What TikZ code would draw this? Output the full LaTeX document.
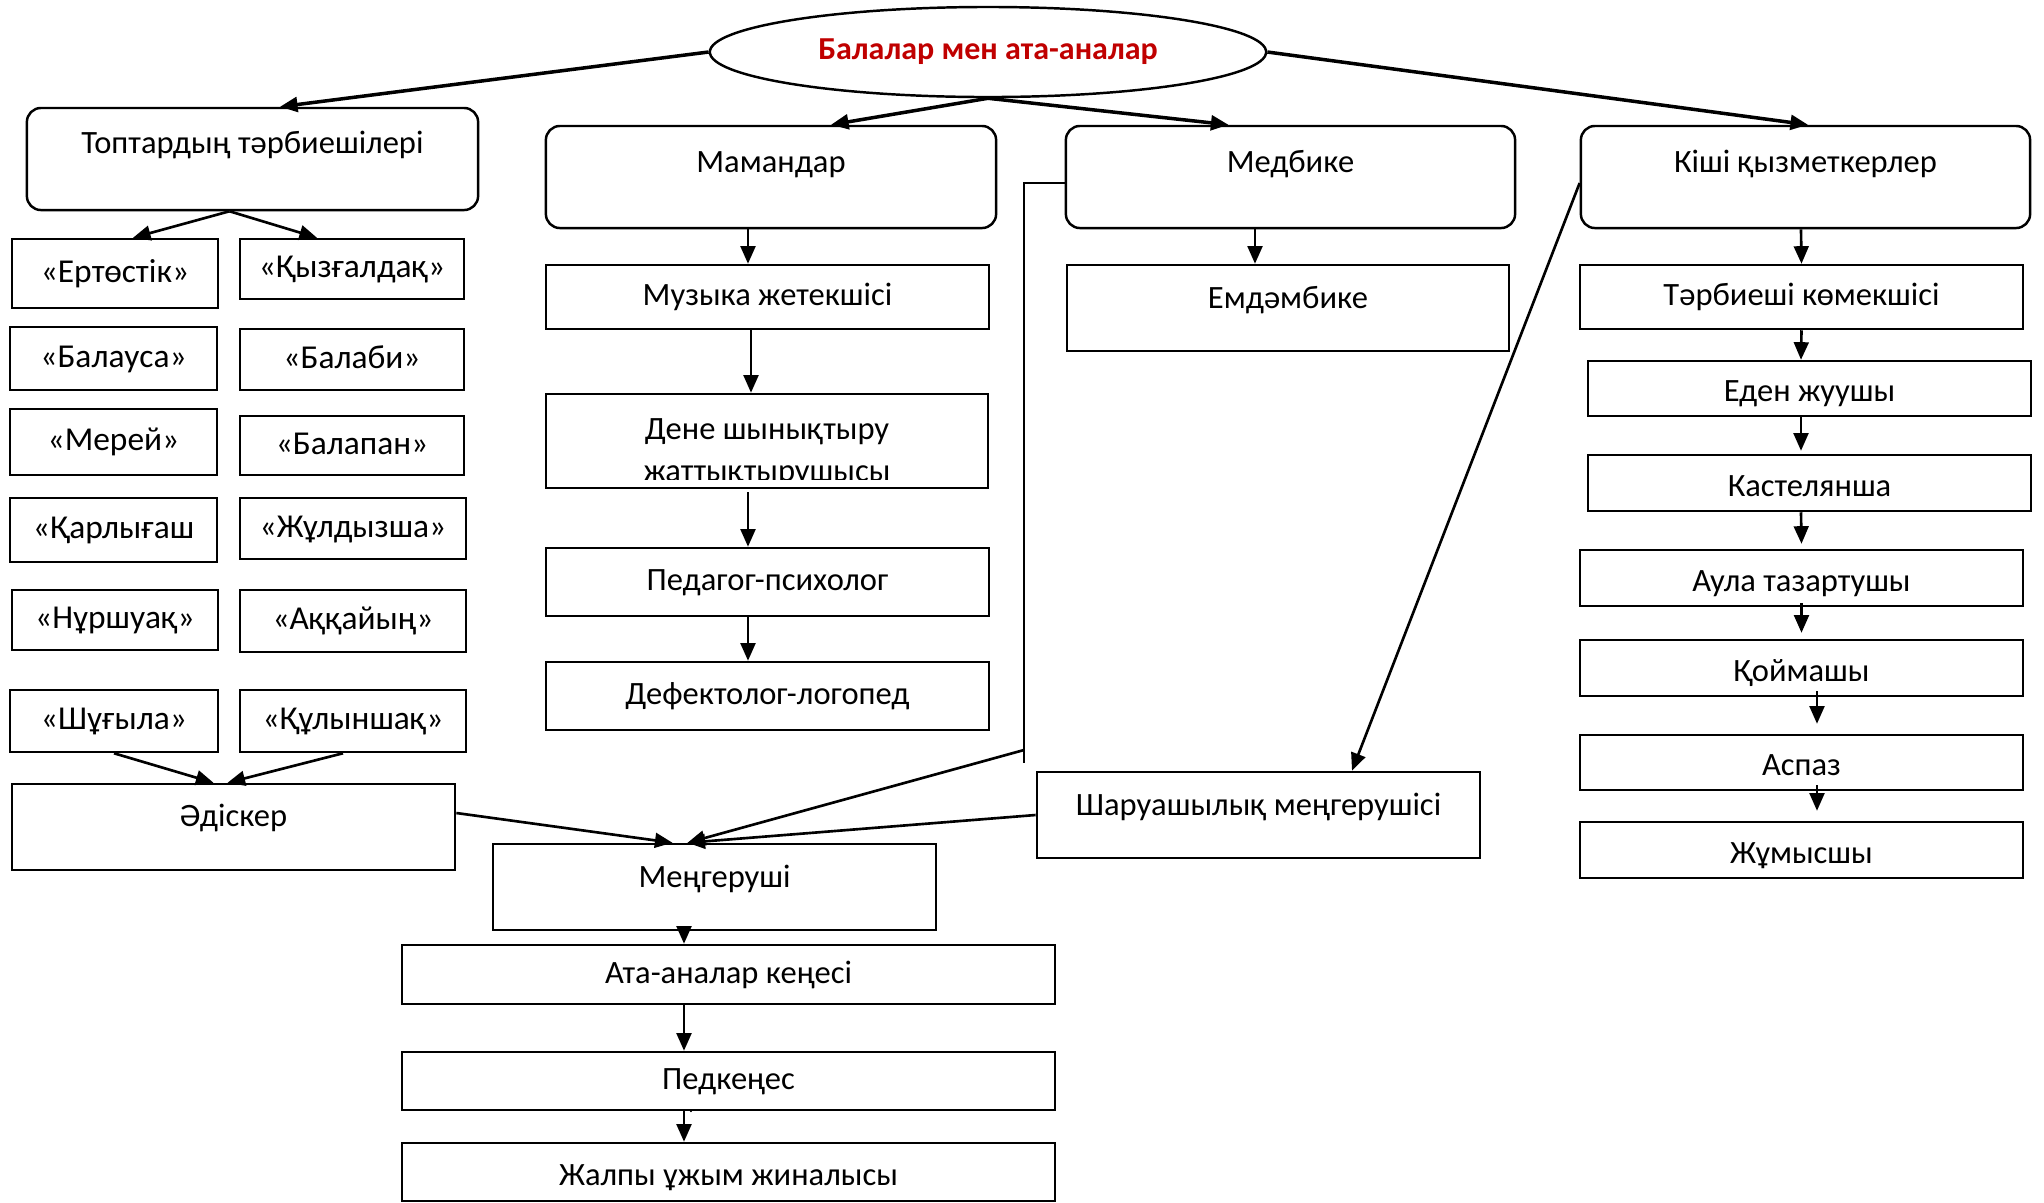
\documentclass[tikz,border=0pt]{standalone}
\usepackage{fontspec}
\setmainfont{Carlito}
\usetikzlibrary{calc,shapes.geometric,arrows.meta}
\definecolor{titlered}{RGB}{192,0,0}

\begin{document}
\begin{tikzpicture}[x=0.01cm, y=-0.01cm,
  font=\fontsize{9.25}{11.4}\selectfont,
  box/.style={draw, line width=0.7pt, inner sep=0pt, align=center, text height=6.5pt, text depth=1.5pt},
  rbox/.style={box, rounded corners=4pt},
  grp/.style={box, font=\fontsize{9.5}{11}\selectfont},
  low/.style={text height=9pt},
  textup/.style={text depth=#1},
  arr/.style={-{Triangle[length=5pt,width=4.2pt]}, line width=0.75pt},
  bigarr/.style={arr, line width=1pt}]

  \useasboundingbox (0,0) rectangle (2044,1202);

  % Root ellipse
  \node[draw, ellipse, line width=0.7pt, inner sep=0pt, minimum width=5.56cm, minimum height=0.9cm,
        text=titlered, font=\fontsize{9.1}{11}\selectfont\bfseries] (root) at (988,52) {Балалар мен ата-аналар};

  % Main groups
  \node[rbox, minimum width=4.51cm, minimum height=1.02cm, textup=9.6pt] (topt) at (252.5,159) {Топтардың тәрбиешілері};
  \node[rbox, minimum width=4.50cm, minimum height=1.02cm, textup=8.8pt] (mam) at (771,177) {Мамандар};
  \node[rbox, minimum width=4.49cm, minimum height=1.02cm, textup=8.8pt] (med) at (1290.5,177) {Медбике};
  \node[rbox, minimum width=4.49cm, minimum height=1.02cm, textup=8.8pt] (kishi) at (1805.5,177) {Кіші қызметкерлер};

  % Groups of children
  \node[grp, minimum width=2.06cm, minimum height=0.69cm] (ert) at (115,273.5) {«Ертөстік»};
  \node[grp, minimum width=2.24cm, minimum height=0.60cm] (kyz) at (352,269) {«Қызғалдақ»};
  \node[grp, minimum width=2.07cm, minimum height=0.63cm] (bal) at (113.5,358.5) {«Балауса»};
  \node[grp, minimum width=2.24cm, minimum height=0.61cm] (balabi) at (352,359.5) {«Балаби»};
  \node[grp, minimum width=2.07cm, minimum height=0.66cm] (merei) at (113.5,442) {«Мерей»};
  \node[grp, minimum width=2.24cm, minimum height=0.59cm] (balapan) at (352,445.5) {«Балапан»};
  \node[grp, minimum width=2.07cm, minimum height=0.64cm] (karly) at (113.5,530) {«Қарлығаш};
  \node[grp, minimum width=2.26cm, minimum height=0.61cm] (zhuld) at (353,528.5) {«Жұлдызша»};
  \node[grp, minimum width=2.06cm, minimum height=0.60cm] (nursh) at (115,620) {«Нұршуақ»};
  \node[grp, minimum width=2.26cm, minimum height=0.62cm] (akk) at (353,621) {«Аққайың»};
  \node[grp, minimum width=2.08cm, minimum height=0.62cm] (shug) at (114,721) {«Шұғыла»};
  \node[grp, minimum width=2.26cm, minimum height=0.62cm] (kulyn) at (353,721) {«Құлыншақ»};
  \node[box, minimum width=4.43cm, minimum height=0.86cm, textup=7pt] (adisker) at (233.5,827) {Әдіскер};

  % Specialists
  \node[box, minimum width=4.43cm, minimum height=0.64cm] (muz) at (767.5,297) {Музыка жетекшісі};
  \node[box, minimum width=4.42cm, minimum height=0.94cm] (dene) at (767,441) {};
  \begin{scope}
    \clip (546,394) rectangle (988,479);
    \node[align=center, inner sep=0pt, font=\fontsize{9.25}{12}\selectfont] (dene-t) at (767,453) {Дене шынықтыру\\жаттықтырушысы};
  \end{scope}
  \node[box, minimum width=4.43cm, minimum height=0.68cm] (ped) at (767.5,582) {Педагог-психолог};
  \node[box, minimum width=4.43cm, minimum height=0.68cm] (def) at (767.5,696) {Дефектолог-логопед};

  % Nurse
  \node[box, minimum width=4.42cm, minimum height=0.86cm, textup=6.5pt] (emd) at (1288,308) {Емдәмбике};
  \node[box, minimum width=4.43cm, minimum height=0.86cm, textup=6.5pt] (shar) at (1258.5,815) {Шаруашылық меңгерушісі};

  % Staff
  \node[box, minimum width=4.43cm, minimum height=0.64cm] (terb) at (1801.5,297) {Тәрбиеші көмекшісі};
  \node[box, low, minimum width=4.43cm, minimum height=0.55cm] (eden) at (1809.5,388.5) {Еден жуушы};
  \node[box, low, minimum width=4.43cm, minimum height=0.56cm] (kastel) at (1809.5,483) {Кастелянша};
  \node[box, low, minimum width=4.43cm, minimum height=0.56cm] (aula) at (1801.5,578) {Аула тазартушы};
  \node[box, low, minimum width=4.43cm, minimum height=0.56cm] (koim) at (1801.5,668) {Қоймашы};
  \node[box, low, minimum width=4.43cm, minimum height=0.55cm] (aspaz) at (1801.5,762.5) {Аспаз};
  \node[box, low, minimum width=4.43cm, minimum height=0.56cm] (zhum) at (1801.5,850) {Жұмысшы};

  % Head and councils
  \node[box, minimum width=4.43cm, minimum height=0.86cm, textup=6.5pt] (meng) at (714.5,887) {Меңгеруші};
  \node[box, minimum width=6.53cm, minimum height=0.59cm] (ata) at (728.5,974.5) {Ата-аналар кеңесі};
  \node[box, minimum width=6.53cm, minimum height=0.58cm] (pedk) at (728.5,1081) {Педкеңес};
  \node[box, low, minimum width=6.53cm, minimum height=0.58cm] (zhalpy) at (728.5,1172) {Жалпы ұжым жиналысы};
  \node[inner sep=0pt, font=\fontsize{5}{6}\selectfont] (dot) at (691,1112) {.};

  % Arrows from root
  \draw[bigarr] (root.west) -- ($(topt.north)+(27.5,0)$);
  \draw[bigarr] (root.south) -- ($(mam.north)+(60,0)$);
  \draw[bigarr] (root.south) -- ($(med.north)+(-62,0)$);
  \draw[bigarr] (root.east) -- ($(kishi.north)+(2.5,0)$);

  % Teachers
  \draw[arr] ($(topt.south)+(-23,0)$) -- ($(ert.north)+(18,0)$);
  \draw[arr] ($(topt.south)+(-23,0)$) -- ($(kyz.north)+(-35,0)$);
  \draw[arr] (shug.south) -- ($(adisker.north)+(-20,0)$);
  \draw[arr] ($(kulyn.south)+(-10,0)$) -- ($(adisker.north)+(-6,0)$);

  % Specialists
  \draw[arr] ($(mam.south)+(-23,0)$) -- ($(muz.north)+(-19.5,0)$);
  \draw[arr] ($(muz.south)+(-16.5,0)$) -- ($(dene.north)+(-16,0)$);
  \draw[arr] ($(dene.south)+(-19,3)$) -- ($(ped.north)+(-19.5,0)$);
  \draw[arr] ($(ped.south)+(-19.5,0)$) -- ($(def.north)+(-19.5,0)$);

  % Nurse line to the head
  \draw[arr] ($(med.south)+(-35.5,0)$) -- ($(emd.north)+(-33,0)$);
  \coordinate (drop) at (1024,763);
  \coordinate (fork) at (1024,750);
  \draw[line width=0.7pt] ($(med.west)+(0,6)$) -| (drop);
  \draw[arr] (fork) -- ($(meng.north)+(-27,0)$);

  % Staff chain
  \draw[arr] ($(kishi.south)+(-4.5,0)$) -- (terb.north);
  \draw[arr] (terb.south) -- ($(eden.north)+(-8.5,0)$);
  \draw[arr] ($(eden.south)+(-8.5,0)$) -- ($(kastel.north)+(-8.5,-3)$);
  \draw[arr] ($(kastel.south)+(-8.5,0)$) -- ($(aula.north)+(0,-5)$);
  \draw[arr] ($(aula.south)+(0,-4)$) -- ($(koim.north)+(0,-6)$);
  \draw[arr] ($(koim.south)+(15.5,-6)$) -- ($(aspaz.north)+(15.5,-10)$);
  \draw[arr] ($(aspaz.south)+(15.5,-6)$) -- ($(zhum.north)+(15.5,-10)$);
  \draw[arr] ($(kishi.west)+(0,6)$) -- ($(shar.north)+(93.5,0)$);

  % Into the head
  \draw[arr] ($(adisker.east)+(0,-14)$) -- ($(meng.north)+(-42,0)$);
  \draw[arr] (shar.west) -- ($(meng.north)+(-27,0)$);

  % Councils
  \draw[arr] ($(meng.south)+(-30.5,0)$) -- ($(ata.north)+(-44.5,0)$);
  \draw[arr] ($(ata.south)+(-44.5,0)$) -- ($(pedk.north)+(-44.5,0)$);
  \draw[arr] ($(pedk.south)+(-44.5,0)$) -- ($(zhalpy.north)+(-44.5,0)$);

\end{tikzpicture}
\end{document}
